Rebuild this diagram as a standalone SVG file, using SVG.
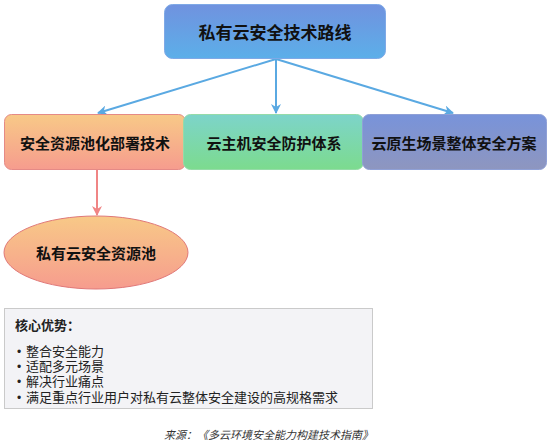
<svg xmlns="http://www.w3.org/2000/svg" width="554" height="448" viewBox="0 0 554 448">
<defs>
<linearGradient id="gTop" x1="0" y1="0" x2="0" y2="1"><stop offset="0" stop-color="#7092df"/><stop offset="1" stop-color="#5cafe9"/></linearGradient>
<linearGradient id="gPeach" x1="0" y1="0" x2="0" y2="1"><stop offset="0" stop-color="#f8c987"/><stop offset="1" stop-color="#f69c8e"/></linearGradient>
<linearGradient id="gGreen" x1="0" y1="0" x2="0" y2="1"><stop offset="0" stop-color="#7dd4ca"/><stop offset="1" stop-color="#7cdb8e"/></linearGradient>
<linearGradient id="gBlue" x1="0" y1="0" x2="0" y2="1"><stop offset="0" stop-color="#7893da"/><stop offset="1" stop-color="#8e96bf"/></linearGradient>
<marker id="aBlue" viewBox="0 0 10 10" refX="9" refY="5" markerWidth="5" markerHeight="5" orient="auto" markerUnits="strokeWidth"><path d="M0,0 L10,5 L0,10 L3,5 z" fill="#5aa9e2"/></marker>
<marker id="aPink" viewBox="0 0 10 10" refX="9" refY="5" markerWidth="5" markerHeight="5" orient="auto" markerUnits="strokeWidth"><path d="M0,0 L10,5 L0,10 L3,5 z" fill="#f08585"/></marker>
</defs>
<style>
.t{font-family:"Noto Sans CJK SC","Noto Sans",sans-serif;font-weight:bold;fill:#111;text-anchor:middle;dominant-baseline:central}
.b{font-family:"Liberation Sans","Noto Sans CJK SC",sans-serif;font-size:13px;fill:#222}
.d{font-family:"Liberation Sans",sans-serif;font-size:12px;fill:#222}
.blue{stroke:#5aa9e2;stroke-width:2;fill:none;marker-end:url(#aBlue)}
.pink{stroke:#f08585;stroke-width:2;fill:none;marker-end:url(#aPink)}
</style>
<g id="connectors">
<line class="blue" x1="276" y1="59" x2="98" y2="113"/>
<line class="blue" x1="276" y1="59" x2="276" y2="113"/>
<line class="blue" x1="276" y1="59" x2="453" y2="113"/>
<line class="pink" x1="97" y1="170" x2="97" y2="215"/>
</g>
<g id="top">
<rect x="164.5" y="4.5" width="221" height="54" rx="8" fill="url(#gTop)" stroke="#7fa9e6"/>
<text class="t" x="275" y="31" font-size="17">私有云安全技术路线</text>
</g>
<g id="left">
<rect x="4.5" y="114.5" width="181" height="55" rx="7" fill="url(#gPeach)" stroke="#e58a86"/>
<text class="t" x="95" y="142" font-size="15">安全资源池化部署技术</text>
</g>
<g id="middle">
<rect x="183.5" y="114.5" width="180" height="55" rx="7" fill="url(#gGreen)" stroke="#95dba8"/>
<text class="t" x="274" y="142" font-size="15">云主机安全防护体系</text>
</g>
<g id="right">
<rect x="362.5" y="114.5" width="184" height="55" rx="7" fill="url(#gBlue)" stroke="#8fa0d6"/>
<text class="t" x="454" y="142" font-size="15">云原生场景整体安全方案</text>
</g>
<g id="pool">
<ellipse cx="96" cy="252.5" rx="92" ry="36.5" fill="url(#gPeach)" stroke="#e07878"/>
<text class="t" x="96" y="252" font-size="15">私有云安全资源池</text>
</g>
<g id="advantages">
<rect x="4.5" y="308.5" width="368" height="100" fill="#f3f3f6" stroke="#9a9a9a" stroke-dasharray="1,1"/>
<text class="b" x="15" y="330" font-weight="bold">核心优势：</text>
<text class="d" x="17" y="356">•</text>
<text class="d" x="17" y="371">•</text>
<text class="d" x="17" y="386">•</text>
<text class="d" x="17" y="402">•</text>
<text class="b" x="26" y="356">整合安全能力</text>
<text class="b" x="26" y="371">适配多元场景</text>
<text class="b" x="26" y="386">解决行业痛点</text>
<text class="b" x="26" y="402">满足重点行业用户对私有云整体安全建设的高规格需求</text>
</g>
<text x="373" y="439" text-anchor="end" font-family="'Noto Sans CJK SC',sans-serif" font-size="11" font-style="italic" fill="#333">来源：《多云环境安全能力构建技术指南》</text>
</svg>
